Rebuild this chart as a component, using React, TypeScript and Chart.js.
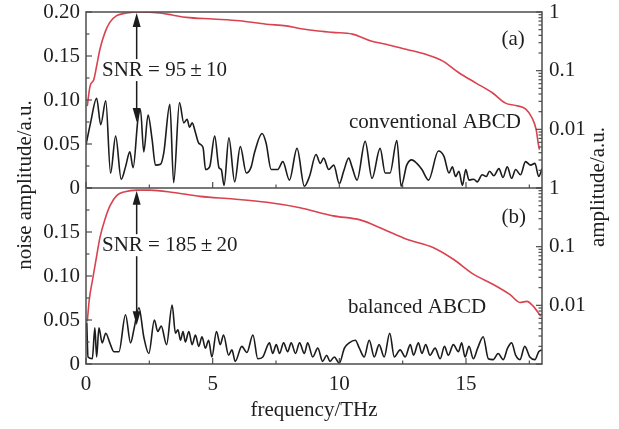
import React, { useEffect, useRef } from 'react';
import { Chart, registerables } from 'chart.js';
Chart.register(...registerables);

// (a) conventional ABCD – noise spectrum (left axis, linear)
const freqA = [0, 0.18, 0.42, 0.58, 0.78, 0.97, 1.17, 1.39, 1.56, 1.73, 1.86, 2.05, 2.15, 2.28, 2.45, 2.61, 2.74, 2.94, 3.07, 3.31, 3.46, 3.69, 3.86, 3.99, 4.09, 4.19, 4.32, 4.45, 4.62, 4.72, 4.88, 5.08, 5.25, 5.34, 5.45, 5.64, 5.87, 6.09, 6.33, 6.52, 6.65, 6.95, 7.11, 7.31, 7.57, 7.77, 8.03, 8.33, 8.62, 8.82, 9.08, 9.25, 9.38, 9.58, 9.78, 10.0, 10.17, 10.37, 10.5, 10.7, 11.02, 11.29, 11.61, 11.81, 12.0, 12.27, 12.44, 12.66, 12.86, 13.06, 13.26, 13.52, 13.91, 14.13, 14.33, 14.46, 14.59, 14.72, 14.86, 14.99, 15.12, 15.31, 15.44, 15.64, 15.8, 15.93, 16.1, 16.3, 16.46, 16.63, 16.8, 16.96, 17.15, 17.35, 17.55, 17.72, 17.87, 18.0];
const noiseA = [0.049, 0.074, 0.102, 0.072, 0.099, 0.017, 0.059, 0.010, 0.024, 0.041, 0.023, 0.078, 0.089, 0.041, 0.083, 0.055, 0.026, 0.027, 0.040, 0.095, 0.006, 0.097, 0.074, 0.078, 0.069, 0.074, 0.063, 0.051, 0.046, 0.021, 0.024, 0.059, 0.023, 0.021, 0.003, 0.057, 0.007, 0.047, 0.017, 0.024, 0.040, 0.062, 0.051, 0.021, 0.021, 0.030, 0.009, 0.045, 0.002, 0.013, 0.038, 0.028, 0.034, 0.021, 0.026, 0.005, 0.019, 0.034, 0.024, 0.009, 0.053, 0.011, 0.045, 0.017, 0.017, 0.054, 0.002, 0.026, 0.032, 0.028, 0.021, 0.009, 0.042, 0.036, 0.017, 0.024, 0.013, 0.019, 0.003, 0.021, 0.009, 0.010, 0.007, 0.015, 0.013, 0.019, 0.014, 0.022, 0.012, 0.024, 0.011, 0.021, 0.015, 0.030, 0.026, 0.028, 0.013, 0.022];

// (a) amplitude spectrum (right axis, log)
const freqAmpA = [0.05, 0.16, 0.31, 0.42, 0.55, 0.75, 0.94, 1.21, 1.6, 2.13, 2.9, 3.4, 3.96, 5.0, 6.06, 7.11, 7.9, 8.43, 9.08, 9.74, 10.52, 11.25, 11.84, 12.63, 13.41, 14.07, 14.72, 15.38, 16.04, 16.56, 16.96, 17.35, 17.61, 17.77, 17.85, 17.9];
const ampA = [0.0248, 0.0545, 0.071, 0.12, 0.232, 0.449, 0.665, 0.865, 0.96, 1.0, 0.96, 0.89, 0.81, 0.76, 0.71, 0.62, 0.58, 0.525, 0.478, 0.449, 0.42, 0.32, 0.283, 0.232, 0.19, 0.147, 0.092, 0.062, 0.042, 0.028, 0.0255, 0.0223, 0.0156, 0.0099, 0.0058, 0.0045];

// (b) balanced ABCD – noise spectrum
const freqB = [0.03, 0.08, 0.25, 0.35, 0.42, 0.51, 0.64, 0.78, 0.94, 1.1, 1.3, 1.56, 1.76, 1.89, 2.09, 2.28, 2.48, 2.7, 2.83, 2.97, 3.18, 3.4, 3.53, 3.63, 3.73, 3.83, 3.92, 4.06, 4.19, 4.32, 4.45, 4.58, 4.71, 4.84, 4.97, 5.15, 5.3, 5.43, 5.63, 5.76, 5.89, 6.15, 6.35, 6.59, 6.78, 6.98, 7.24, 7.37, 7.51, 7.64, 7.8, 7.96, 8.1, 8.27, 8.43, 8.62, 8.75, 8.95, 9.15, 9.34, 9.5, 9.63, 9.8, 10.0, 10.2, 10.39, 10.63, 10.79, 10.98, 11.18, 11.38, 11.57, 11.77, 11.99, 12.17, 12.4, 12.6, 12.8, 12.93, 13.12, 13.26, 13.41, 13.58, 13.78, 13.98, 14.15, 14.3, 14.5, 14.7, 14.83, 14.96, 15.12, 15.29, 15.46, 15.68, 15.88, 16.07, 16.27, 16.47, 16.64, 16.8, 16.96, 17.13, 17.32, 17.52, 17.72, 17.87, 18.0];
const noiseB = [0.047, 0.008, 0.006, 0.041, 0.008, 0.041, 0.024, 0.035, 0.024, 0.014, 0.014, 0.056, 0.024, 0.039, 0.064, 0.031, 0.012, 0.050, 0.037, 0.043, 0.022, 0.067, 0.035, 0.039, 0.027, 0.037, 0.025, 0.037, 0.022, 0.033, 0.020, 0.031, 0.018, 0.027, 0.008, 0.037, 0.022, 0.033, 0.010, 0.016, 0.003, 0.020, 0.013, 0.033, 0.006, 0.008, 0.024, 0.012, 0.022, 0.012, 0.024, 0.014, 0.024, 0.012, 0.024, 0.012, 0.024, 0.008, 0.018, 0.003, 0.010, 0.003, 0.008, 0.001, 0.018, 0.024, 0.027, 0.018, 0.008, 0.027, 0.008, 0.022, 0.008, 0.035, 0.008, 0.016, 0.008, 0.022, 0.010, 0.024, 0.012, 0.022, 0.010, 0.018, 0.006, 0.020, 0.010, 0.022, 0.014, 0.024, 0.008, 0.020, 0.006, 0.018, 0.031, 0.006, 0.005, 0.012, 0.005, 0.018, 0.024, 0.010, 0.005, 0.020, 0.008, 0.005, 0.014, 0.016];

// (b) amplitude spectrum
const freqAmpB = [0.05, 0.13, 0.26, 0.42, 0.55, 0.75, 0.95, 1.21, 1.54, 2.0, 2.53, 3.45, 4.5, 5.82, 7.14, 8.45, 9.76, 10.82, 11.74, 12.66, 13.72, 14.5, 15.29, 16.08, 16.74, 17.13, 17.4, 17.66, 17.95];
const ampB = [0.0053, 0.0125, 0.0275, 0.069, 0.143, 0.294, 0.5, 0.74, 0.865, 0.92, 0.92, 0.84, 0.72, 0.65, 0.57, 0.46, 0.335, 0.286, 0.198, 0.134, 0.096, 0.061, 0.034, 0.0226, 0.0152, 0.0112, 0.0117, 0.0096, 0.0065];

// tick values
const xTicks = [0, 5, 10, 15];
const xMinor = [2.5, 7.5, 12.5, 17.5];
const noiseTicksA = [0, 0.05, 0.1, 0.15, 0.2];
const noiseTicksB = [0, 0.05, 0.1, 0.15];
const noiseMajor = [0, 0.05, 0.1, 0.15, 0.2];
const noiseMinor = [0.025, 0.075, 0.125, 0.175];
const ampTicks = [0.01, 0.1, 1];
const ampMajor = [0.001, 0.01, 0.1, 1];
const ampMinor = [0.002, 0.003, 0.004, 0.005, 0.006, 0.007, 0.008, 0.009, 0.02, 0.03, 0.04, 0.05, 0.06, 0.07, 0.08, 0.09, 0.2, 0.3, 0.4, 0.5, 0.6, 0.7, 0.8, 0.9];

const FAMILY = "'Liberation Serif', 'DejaVu Serif', serif";
const FONT_SIZE = 21;
const TEXT = '#1e1e1e';
const FRAME = '#4d4d4d';
const RED = '#d9424f';
const BLACK = '#1c1c1c';

const W = 619;
const H = 429;

const pts = (xs: number[], ys: number[]) => xs.map((x, i) => ({ x, y: ys[i] }));

const fmtNoise = (v: number) => (v === 0 ? '0' : v.toFixed(2));

const fitV = (w: number) => (s: any) => { s.width = w; s.paddingTop = 0; s.paddingBottom = 0; };

const decor = {
  id: 'decor',
  afterDraw(chart: any) {
    const { ctx, chartArea: ca, scales } = chart;
    const x = scales.x, yA = scales.yA, yB = scales.yB, rA = scales.rA, rB = scales.rB;
    const line = (x1: number, y1: number, x2: number, y2: number) => {
      ctx.beginPath(); ctx.moveTo(x1, y1); ctx.lineTo(x2, y2); ctx.stroke();
    };
    ctx.save();
    ctx.strokeStyle = FRAME;
    ctx.lineWidth = 1.5;
    ctx.strokeRect(ca.left, ca.top, ca.right - ca.left, ca.bottom - ca.top);
    line(ca.left, yA.bottom, ca.right, yA.bottom);

    ctx.lineWidth = 1.2;
    const MAJ = 6, MIN = 3.5;
    for (const s of [yA, yB]) {
      for (const v of noiseMajor) { const p = s.getPixelForValue(v); line(ca.left, p, ca.left + MAJ, p); }
      for (const v of noiseMinor) { const p = s.getPixelForValue(v); line(ca.left, p, ca.left + MIN, p); }
    }
    for (const s of [rA, rB]) {
      for (const v of ampMajor) { const p = s.getPixelForValue(v); line(ca.right, p, ca.right - MAJ, p); }
      for (const v of ampMinor) { const p = s.getPixelForValue(v); line(ca.right, p, ca.right - MIN, p); }
    }
    for (const s of [yA, yB]) {
      for (const v of xTicks) { const p = x.getPixelForValue(v); line(p, s.bottom, p, s.bottom - MAJ); }
      for (const v of xMinor) { const p = x.getPixelForValue(v); line(p, s.bottom, p, s.bottom - MIN); }
    }

    // annotations
    ctx.fillStyle = TEXT;
    ctx.font = `${FONT_SIZE}px ${FAMILY}`;
    ctx.textBaseline = 'middle';
    ctx.textAlign = 'left';
    ctx.fillText('(a)', x.getPixelForValue(16.4), yA.getPixelForValue(0.169));
    ctx.fillText('(b)', x.getPixelForValue(16.4), yB.getPixelForValue(0.167));
    ctx.fillText('conventional ABCD', x.getPixelForValue(10.38), yA.getPixelForValue(0.074));
    ctx.fillText('balanced ABCD', x.getPixelForValue(10.34), yB.getPixelForValue(0.064));

    const arrow = (s: any, fx: number, vTop: number, vBot: number, label: string, vText: number) => {
      const px = x.getPixelForValue(fx);
      const t = s.getPixelForValue(vTop);
      const b = s.getPixelForValue(vBot);
      const ty = s.getPixelForValue(vText);
      const HL = 14, HW = 4;
      ctx.strokeStyle = BLACK;
      ctx.fillStyle = BLACK;
      ctx.lineWidth = 1.5;
      line(px, t + HL - 2, px, ty - 11);
      line(px, ty + 11, px, b - HL + 2);
      ctx.beginPath(); ctx.moveTo(px, t); ctx.lineTo(px - HW, t + HL); ctx.lineTo(px + HW, t + HL); ctx.closePath(); ctx.fill();
      ctx.beginPath(); ctx.moveTo(px, b); ctx.lineTo(px - HW, b - HL); ctx.lineTo(px + HW, b - HL); ctx.closePath(); ctx.fill();
      ctx.fillStyle = TEXT;
      ctx.fillText(label, x.getPixelForValue(0.63), ty);
    };
    arrow(yA, 2.0, 0.199, 0.075, 'SNR = 95\u2009\u00B1\u200910', 0.134);
    arrow(yB, 2.0, 0.197, 0.044, 'SNR = 185\u2009\u00B1\u200920', 0.135);

    // axis titles
    ctx.fillStyle = TEXT;
    ctx.textAlign = 'center';
    ctx.textBaseline = 'middle';
    const midY = (ca.top + ca.bottom) / 2;
    ctx.save();
    ctx.translate(25, midY - 3);
    ctx.rotate(-Math.PI / 2);
    ctx.fillText('noise amplitude/a.u.', 0, 0);
    ctx.restore();
    ctx.save();
    ctx.translate(598, midY - 1);
    ctx.rotate(-Math.PI / 2);
    ctx.fillText('amplitude/a.u.', 0, 0);
    ctx.restore();
    ctx.restore();
  },
};

export default function App() {
  const ref = useRef<HTMLCanvasElement | null>(null);
  useEffect(() => {
    document.body.style.margin = '0';
    const canvas = ref.current;
    if (!canvas) return;
    const font = { family: FAMILY, size: FONT_SIZE };
    const noGrid = { display: false, drawTicks: false };
    const noBorder = { display: false };
    const chart = new Chart(canvas, {
      type: 'line',
      data: {
        datasets: [
          { data: pts(freqA, noiseA), yAxisID: 'yA', borderColor: BLACK, borderWidth: 1.6, pointRadius: 0, cubicInterpolationMode: 'monotone', fill: false },
          { data: pts(freqAmpA, ampA), yAxisID: 'rA', borderColor: RED, borderWidth: 1.6, pointRadius: 0, cubicInterpolationMode: 'monotone', fill: false },
          { data: pts(freqB, noiseB), yAxisID: 'yB', borderColor: BLACK, borderWidth: 1.6, pointRadius: 0, cubicInterpolationMode: 'monotone', fill: false },
          { data: pts(freqAmpB, ampB), yAxisID: 'rB', borderColor: RED, borderWidth: 1.6, pointRadius: 0, cubicInterpolationMode: 'monotone', fill: false },
        ],
      },
      options: {
        animation: false,
        responsive: false,
        maintainAspectRatio: false,
        layout: { padding: { top: 12, left: 0, right: 0, bottom: 0 } },
        plugins: { legend: { display: false }, tooltip: { enabled: false } },
        scales: {
          x: {
            type: 'linear', position: 'bottom', min: 0, max: 18,
            grid: noGrid, border: noBorder,
            afterBuildTicks: (s: any) => { s.ticks = xTicks.map((v) => ({ value: v })); },
            ticks: { font, color: TEXT, padding: 8, maxRotation: 0, autoSkip: false, callback: (v: any) => String(v) },
            title: { display: true, text: 'frequency/THz', font, color: TEXT, padding: { top: 0, bottom: 6 } },
            afterFit: (s: any) => { s.height = 65; s.paddingLeft = 0; s.paddingRight = 0; },
          },
          yB: {
            type: 'linear', position: 'left', stack: 'left', stackWeight: 1, min: 0, max: 0.2,
            grid: noGrid, border: noBorder,
            afterBuildTicks: (s: any) => { s.ticks = noiseTicksB.map((v) => ({ value: v })); },
            ticks: { font, color: TEXT, padding: 6, autoSkip: false, callback: (v: any) => fmtNoise(Number(v)) },
            afterFit: fitV(86),
          },
          yA: {
            type: 'linear', position: 'left', stack: 'left', stackWeight: 1, min: 0, max: 0.2,
            grid: noGrid, border: noBorder,
            afterBuildTicks: (s: any) => { s.ticks = noiseTicksA.map((v) => ({ value: v })); },
            ticks: { font, color: TEXT, padding: 6, autoSkip: false, callback: (v: any) => fmtNoise(Number(v)) },
            afterFit: fitV(86),
          },
          rA: {
            type: 'logarithmic', position: 'right', stack: 'right', stackWeight: 1, min: 0.001, max: 1,
            grid: noGrid, border: noBorder,
            afterBuildTicks: (s: any) => { s.ticks = ampTicks.map((v) => ({ value: v })); },
            ticks: { font, color: TEXT, padding: 7, autoSkip: false, callback: (v: any) => String(v) },
            afterFit: fitV(77),
          },
          rB: {
            type: 'logarithmic', position: 'right', stack: 'right', stackWeight: 1, min: 0.001, max: 1,
            grid: noGrid, border: noBorder,
            afterBuildTicks: (s: any) => { s.ticks = ampTicks.map((v) => ({ value: v })); },
            ticks: { font, color: TEXT, padding: 7, autoSkip: false, callback: (v: any) => String(v) },
            afterFit: fitV(77),
          },
        },
      } as any,
      plugins: [decor],
    });
    return () => chart.destroy();
  }, []);
  return (
    <div style={{ width: W, height: H, background: '#fff' }}>
      <canvas ref={ref} width={W} height={H} style={{ display: 'block' }} />
    </div>
  );
}
